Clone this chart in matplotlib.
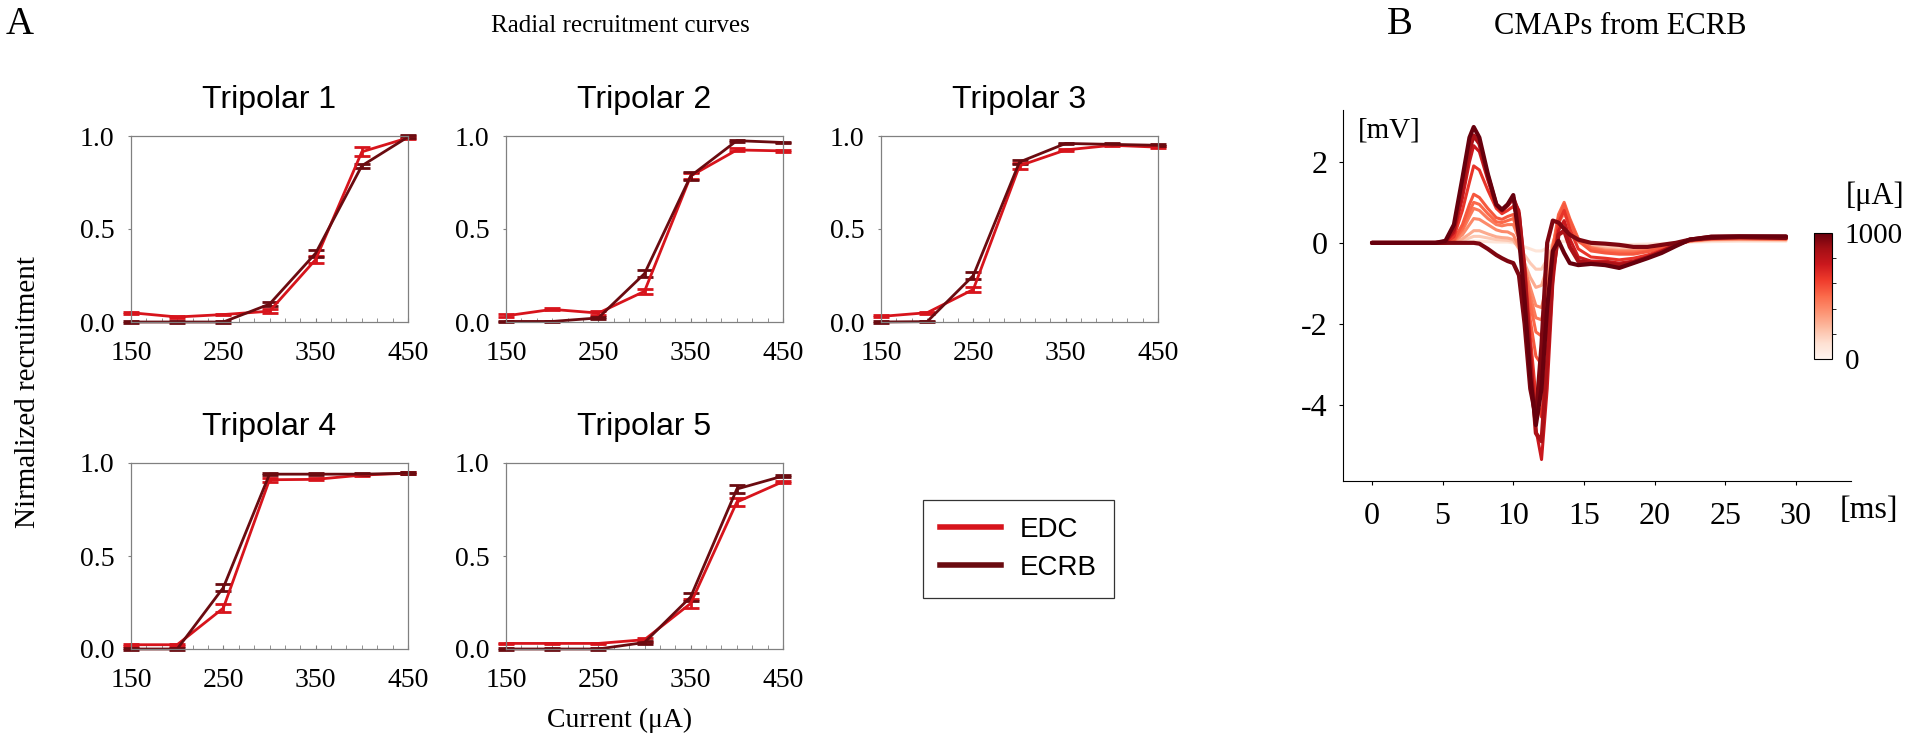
import matplotlib
matplotlib.use("Agg")
import matplotlib.pyplot as plt
from matplotlib.lines import Line2D
from matplotlib.colors import Normalize
from matplotlib.cm import ScalarMappable

plt.rcParams['font.family'] = 'Liberation Serif'
plt.rcParams['axes.unicode_minus'] = False
SANS = 'Liberation Sans'

# ==============================================================================
# Data - A: radial recruitment curves
# ==============================================================================
current = [150, 200, 250, 300, 350, 400, 450]
titles = ["Tripolar 1", "Tripolar 2", "Tripolar 3", "Tripolar 4", "Tripolar 5"]

edc_mean = [
    [0.05, 0.027, 0.04, 0.058, 0.336, 0.915, 0.99],
    [0.033, 0.068, 0.048, 0.165, 0.785, 0.925, 0.92],
    [0.03, 0.05, 0.175, 0.84, 0.925, 0.95, 0.94],
    [0.023, 0.023, 0.22, 0.91, 0.912, 0.935, 0.945],
    [0.03, 0.03, 0.03, 0.05, 0.245, 0.79, 0.90],
]
edc_err = [
    [0.005, 0.005, 0.005, 0.012, 0.02, 0.025, 0.008],
    [0.008, 0.005, 0.01, 0.012, 0.015, 0.008, 0.005],
    [0.005, 0.005, 0.015, 0.015, 0.005, 0.005, 0.005],
    [0.005, 0.005, 0.02, 0.01, 0.005, 0.005, 0.005],
    [0.003, 0.003, 0.003, 0.01, 0.025, 0.02, 0.005],
]
ecrb_mean = [
    [0.0, 0.0, 0.0, 0.096, 0.37, 0.84, 0.995],
    [0.003, 0.003, 0.022, 0.26, 0.785, 0.975, 0.965],
    [0.0, 0.002, 0.25, 0.86, 0.96, 0.955, 0.95],
    [0.0, 0.0, 0.33, 0.94, 0.94, 0.94, 0.945],
    [0.0, 0.0, 0.0, 0.035, 0.28, 0.86, 0.93],
]
ecrb_err = [
    [0.003, 0.003, 0.003, 0.01, 0.018, 0.01, 0.008],
    [0.003, 0.003, 0.005, 0.02, 0.02, 0.005, 0.005],
    [0.003, 0.003, 0.02, 0.01, 0.005, 0.005, 0.005],
    [0.003, 0.003, 0.02, 0.005, 0.005, 0.005, 0.005],
    [0.003, 0.003, 0.003, 0.01, 0.02, 0.02, 0.005],
]

# ==============================================================================
# Data - B: CMAPs from ECRB (one trace per stimulation current)
# ==============================================================================
t_ms = [0, 4.5, 5.2, 5.8, 6.4, 6.9, 7.2, 7.6, 8.2, 8.8, 9.2, 9.6, 10.0, 10.4,
        10.8, 11.2, 11.6, 12.0, 12.4, 12.8, 13.2, 13.6, 14.0, 14.6, 15.5, 16.5,
        17.5, 18.5, 19.5, 20.5, 21.5, 22.5, 24.0, 26.0, 29.3]
cmap_current = [100, 200, 300, 400, 450, 500, 550, 650, 750, 850, 950, 1000]
cmap_mv = [
    [0, 0, 0, 0, 0.01, 0.03, 0.04, 0.04, 0.03, 0.02, 0.02, 0.02, 0.0, -0.05,
     -0.1, -0.15, -0.2, -0.2, -0.12, -0.03, 0.03, 0.04, 0.02, 0.0, -0.02, -0.03,
     -0.04, -0.04, -0.03, -0.02, 0.0, 0.02, 0.03, 0.04, 0.04],
    [0, 0, 0, 0.01, 0.05, 0.12, 0.16, 0.16, 0.12, 0.08, 0.07, 0.06, 0.04, -0.1,
     -0.3, -0.5, -0.65, -0.65, -0.4, -0.05, 0.2, 0.25, 0.15, 0.02, -0.06, -0.1,
     -0.12, -0.12, -0.1, -0.06, -0.02, 0.03, 0.06, 0.07, 0.06],
    [0, 0, 0, 0.02, 0.1, 0.22, 0.3, 0.3, 0.22, 0.15, 0.13, 0.12, 0.08, -0.15,
     -0.5, -0.85, -1.1, -1.05, -0.6, 0.0, 0.4, 0.5, 0.3, 0.05, -0.1, -0.15,
     -0.18, -0.18, -0.15, -0.1, -0.03, 0.04, 0.08, 0.09, 0.08],
    [0, 0, 0, 0.04, 0.2, 0.45, 0.6, 0.58, 0.45, 0.32, 0.28, 0.27, 0.2, -0.1,
     -0.6, -1.1, -1.55, -1.6, -1.0, -0.1, 0.5, 0.72, 0.45, 0.08, -0.12, -0.18,
     -0.2, -0.2, -0.17, -0.1, -0.03, 0.05, 0.09, 0.1, 0.09],
    [0, 0, 0, 0.05, 0.3, 0.65, 0.85, 0.8, 0.6, 0.45, 0.42, 0.45, 0.45, 0.1,
     -0.6, -1.3, -1.85, -1.9, -1.2, -0.1, 0.6, 0.9, 0.55, 0.1, -0.12, -0.2,
     -0.22, -0.22, -0.18, -0.1, -0.03, 0.05, 0.1, 0.1, 0.09],
    [0, 0, 0, 0.06, 0.35, 0.78, 1.0, 0.95, 0.72, 0.52, 0.5, 0.55, 0.6, 0.2,
     -0.6, -1.5, -2.2, -2.3, -1.4, -0.1, 0.7, 1.0, 0.6, 0.1, -0.15, -0.22,
     -0.25, -0.25, -0.2, -0.12, -0.04, 0.05, 0.1, 0.11, 0.1],
    [0, 0, 0, 0.08, 0.45, 0.95, 1.2, 1.12, 0.85, 0.62, 0.58, 0.65, 0.7, 0.3,
     -0.7, -1.9, -2.8, -3.0, -1.8, -0.2, 0.6, 0.95, 0.55, 0.05, -0.2, -0.25,
     -0.28, -0.28, -0.22, -0.13, -0.04, 0.05, 0.1, 0.12, 0.11],
    [0, 0, 0.01, 0.15, 0.8, 1.5, 1.9, 1.8, 1.3, 0.85, 0.72, 0.8, 0.9, 0.55,
     -0.6, -2.3, -3.8, -4.3, -2.8, -0.6, 0.5, 0.8, 0.35, -0.15, -0.35, -0.38,
     -0.42, -0.38, -0.3, -0.18, -0.05, 0.06, 0.13, 0.14, 0.13],
    [0, 0, 0.02, 0.25, 1.1, 2.0, 2.4, 2.25, 1.55, 0.92, 0.8, 0.92, 1.08, 0.8,
     -0.5, -2.6, -4.6, -5.35, -3.6, -1.0, 0.3, 0.55, 0.1, -0.35, -0.45, -0.45,
     -0.5, -0.45, -0.35, -0.2, -0.05, 0.08, 0.15, 0.15, 0.15],
    [0, 0, 0.03, 0.35, 1.35, 2.3, 2.65, 2.45, 1.65, 0.93, 0.8, 0.93, 1.12, 0.7,
     -0.8, -2.9, -4.7, -4.9, -2.9, -0.7, 0.2, 0.3, -0.1, -0.45, -0.5, -0.5,
     -0.55, -0.48, -0.36, -0.22, -0.06, 0.08, 0.15, 0.16, 0.15],
    [0, 0, 0, 0, 0, 0, 0, -0.02, -0.15, -0.3, -0.38, -0.45, -0.5, -0.8,
     -2.0, -3.6, -4.3, -2.5, 0.0, 0.55, 0.5, 0.35, 0.2, 0.08, 0.0, -0.02,
     -0.05, -0.1, -0.1, -0.05, 0.0, 0.08, 0.12, 0.14, 0.12],
    [0, 0, 0.05, 0.45, 1.6, 2.6, 2.86, 2.6, 1.7, 0.95, 0.82, 0.95, 1.18, 0.15,
     -1.4, -3.3, -4.5, -3.6, -1.6, -0.2, 0.05, -0.25, -0.5, -0.55, -0.52, -0.55,
     -0.62, -0.5, -0.38, -0.25, -0.08, 0.08, 0.15, 0.16, 0.16],
]

# ==============================================================================
# Figure
# ==============================================================================
W, H = 1908, 745
fig = plt.figure(figsize=(W / 100, H / 100), dpi=100)


def px_axes(left, top, right, bottom):
    return fig.add_axes([left / W, 1 - bottom / H, (right - left) / W, (bottom - top) / H])


edc_color = '#d7141c'
ecrb_color = '#6a0b10'

lefts = [131, 506, 881, 131, 506]
tops = [136, 136, 136, 463, 463]
for i in range(5):
    ax = px_axes(lefts[i], tops[i], lefts[i] + 277, tops[i] + 186)
    for m, e, c in [(edc_mean[i], edc_err[i], edc_color), (ecrb_mean[i], ecrb_err[i], ecrb_color)]:
        eb = ax.errorbar(current, m, yerr=e, color=c, lw=2.0, capsize=6, capthick=2.0)
        for art in [eb.lines[0]] + list(eb.lines[1]) + list(eb.lines[2]):
            art.set_clip_on(False)
    ax.set_xlim(150, 450)
    ax.set_ylim(0, 1)
    ax.set_xticks([150, 250, 350, 450])
    ax.set_xticks([150 + k * 100 / 6 for k in range(19)], minor=True)
    ax.set_yticks([0, 0.5, 1.0])
    ax.set_yticklabels(['0.0', '0.5', '1.0'])
    ax.tick_params(axis='x', which='both', direction='in', length=3, color='#808080', pad=14, labelsize=20)
    ax.tick_params(axis='y', direction='out', length=2, color='#808080', pad=10, labelsize=20)
    for s in ax.spines.values():
        s.set_color('#808080')
        s.set_linewidth(0.9)
    ax.set_title(titles[i], family=SANS, fontsize=23, pad=20)

fig.text(6 / W, 1 - 24 / H, "A", fontsize=28, ha='left', va='center')
fig.text(620 / W, 1 - 26 / H, "Radial recruitment curves", fontsize=18, ha='center', va='center')
fig.text(620 / W, 1 - 720 / H, "Current (\u03bcA)", fontsize=20, ha='center', va='center')
fig.text(28 / W, 1 - 392 / H, "Nirmalized recruitment", fontsize=21, rotation=90, ha='center', va='center')

handles = [Line2D([], [], color=edc_color, lw=4), Line2D([], [], color=ecrb_color, lw=4)]
leg = fig.legend(handles, ["EDC", "ECRB"], loc='upper left', bbox_to_anchor=(923 / W, 1 - 500 / H),
                 borderaxespad=0, frameon=True, fancybox=False, edgecolor='black',
                 prop={'family': SANS, 'size': 20}, handlelength=2.2, borderpad=0.6,
                 labelspacing=0.45, handletextpad=0.7)
leg.get_frame().set_linewidth(0.9)

# ==============================================================================
# B: CMAPs
# ==============================================================================
axb = px_axes(1343, 110, 1851, 481)
norm = Normalize(0, 1000)
cmap = plt.get_cmap('Reds')
for cur, v in zip(cmap_current, cmap_mv):
    lw = 3.0 if cur >= 850 else 2.2
    axb.plot(t_ms, v, color=cmap(norm(cur)), lw=lw, solid_capstyle='round', solid_joinstyle='round')
axb.set_xlim(-2.05, 33.9)
axb.set_ylim(-5.88, 3.28)
axb.set_xticks([0, 5, 10, 15, 20, 25, 30])
axb.set_yticks([-4, -2, 0, 2])
axb.spines['top'].set_visible(False)
axb.spines['right'].set_visible(False)
axb.tick_params(axis='x', length=3, pad=12, labelsize=23)
axb.tick_params(axis='y', length=3, pad=8, labelsize=23)
axb.text(0.03, 0.98, "[mV]", transform=axb.transAxes, fontsize=21, ha='left', va='top')
fig.text(1869 / W, 1 - 510 / H, "[ms]", fontsize=23, ha='center', va='center')

fig.text(1400 / W, 1 - 24 / H, "B", fontsize=28, ha='center', va='center')
fig.text(1620 / W, 1 - 26 / H, "CMAPs from ECRB", fontsize=22, ha='center', va='center')

cax = px_axes(1814, 233, 1832, 359)
cb = fig.colorbar(ScalarMappable(norm=norm, cmap=cmap), cax=cax)
cb.set_ticks([0, 1000])
cb.ax.set_yticklabels(['0', '1000'])
cb.ax.set_yticks([200, 400, 600, 800], minor=True)
cb.ax.tick_params(which='major', length=0, pad=9, labelsize=21)
cb.ax.tick_params(which='minor', length=3)
cb.outline.set_linewidth(0.8)
fig.text(1875 / W, 1 - 196 / H, "[\u03bcA]", fontsize=22, ha='center', va='center')

fig.savefig("out.png", dpi=100)
